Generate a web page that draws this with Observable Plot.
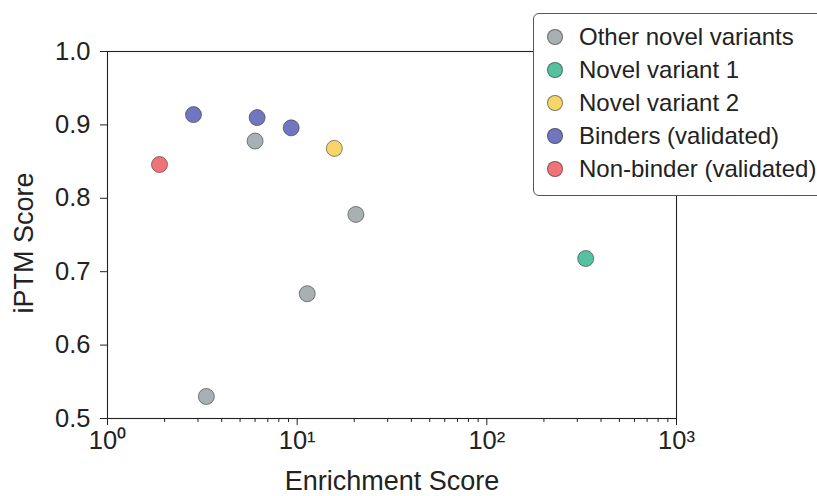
<!DOCTYPE html>
<html>
<head>
<meta charset="utf-8">
<script src="https://cdn.jsdelivr.net/npm/d3@7"></script>
<script src="https://cdn.jsdelivr.net/npm/@observablehq/plot@0.6"></script>
<style>
  body { margin: 0; background: #fff; font-family: "Liberation Sans", Arial, sans-serif; }
  #wrap { position: relative; width: 817px; height: 496px; overflow: hidden; }
  #legend { position: absolute; left: 533px; top: 13px; width: 300px; height: 183px;
    border: 1.2px solid #555; border-radius: 6px; background: #fff; box-sizing: border-box; }
  .item { position: absolute; left: 0; height: 24px; display: flex; align-items: center; font-size: 24px; color: #222; white-space: nowrap; }
  .sw { width: 16px; height: 16px; border-radius: 50%; border: 1px solid rgba(60,60,60,0.6); margin-left: 13px; margin-right: 16px; box-sizing: border-box; flex: none; }
</style>
</head>
<body>
<div id="wrap"><div id="chart"></div><div id="legend"></div></div>
<script>
// Categories and colours
const categories = ["Other novel variants", "Novel variant 1", "Novel variant 2", "Binders (validated)", "Non-binder (validated)"];
const categoryColors = ["#a8b0b3", "#55c1a1", "#f6d56b", "#7076bf", "#f27279"];

// Points
const pointCategory = ["Non-binder (validated)", "Binders (validated)", "Binders (validated)", "Binders (validated)",
  "Other novel variants", "Other novel variants", "Other novel variants", "Other novel variants",
  "Novel variant 2", "Novel variant 1"];
const enrichment = [1.88, 2.84, 6.15, 9.3, 6.0, 20.4, 11.3, 3.32, 15.7, 332];
const iptm = [0.846, 0.914, 0.910, 0.896, 0.878, 0.778, 0.670, 0.530, 0.868, 0.718];

// Ticks
const xMajorTicks = [1, 10, 100, 1000];
const xMinorTicks = [2,3,4,5,6,7,8,9,20,30,40,50,60,70,80,90,200,300,400,500,600,700,800,900];
const yTicks = [0.5, 0.6, 0.7, 0.8, 0.9, 1.0];

const sup = {"0":"⁰","1":"¹","2":"²","3":"³"};
const data = enrichment.map((e, i) => ({x: e, y: iptm[i], c: pointCategory[i]}));

const chart = Plot.plot({
  width: 817, height: 496,
  marginLeft: 107, marginRight: 141, marginTop: 51, marginBottom: 78,
  style: {fontFamily: "Liberation Sans, Arial, sans-serif", fontSize: "25px", color: "#222", background: "#fff"},
  x: {type: "log", domain: [1, 1000]},
  y: {domain: [0.5, 1.0]},
  color: {domain: categories, range: categoryColors},
  marks: [
    Plot.frame({stroke: "#222", strokeWidth: 1.1}),
    Plot.axisX({ticks: xMinorTicks, tickSize: 4, tickFormat: null, text: null, label: null, stroke: "#222"}),
    Plot.axisX({ticks: xMajorTicks, tickSize: 7, tickPadding: 5, stroke: "#222",
      tickFormat: d => "10" + sup[String(Math.round(Math.log10(d)))],
      fontSize: 25.5, label: null}),
    Plot.axisY({ticks: yTicks, tickSize: 7, tickPadding: 10, stroke: "#222", tickFormat: d3.format(".1f"), fontSize: 25.5, label: null}),
    Plot.text(["Enrichment Score"], {frameAnchor: "bottom", dy: 71, fontSize: 27, fill: "#222"}),
    Plot.text(["iPTM Score"], {frameAnchor: "left", textAnchor: "middle", dx: -83, dy: 8, rotate: -90, fontSize: 27, fill: "#222"}),
    Plot.dot(data, {x: "x", y: "y", fill: "c", r: 8, stroke: "#333", strokeOpacity: 0.65, strokeWidth: 0.9})
  ]
});
document.getElementById("chart").appendChild(chart);

const legend = document.getElementById("legend");
categories.forEach((c, i) => {
  const it = document.createElement("div");
  it.className = "item";
  it.style.top = (10.5 + i * 33.15) + "px";
  const sw = document.createElement("span");
  sw.className = "sw";
  sw.style.background = categoryColors[i];
  const t = document.createElement("span");
  t.textContent = c;
  it.appendChild(sw); it.appendChild(t);
  legend.appendChild(it);
});
</script>
</body>
</html>
